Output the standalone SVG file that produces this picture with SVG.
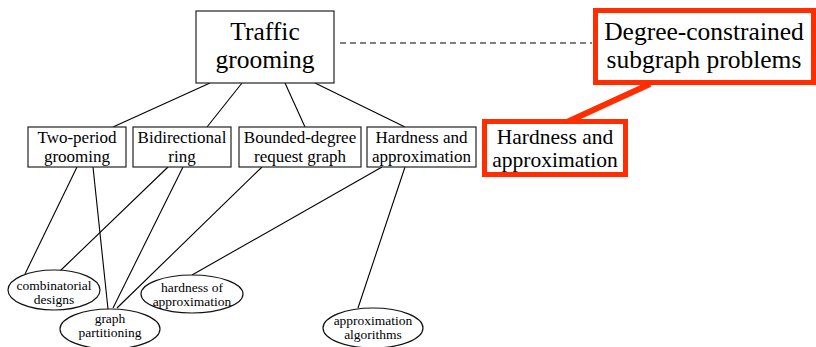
<svg xmlns="http://www.w3.org/2000/svg" width="816" height="347" viewBox="0 0 816 347" font-family="'Liberation Serif', serif">
  <style>
    text { fill: #000; text-anchor: middle; }
    .box { fill: #fff; stroke: #222; stroke-width: 1.2; }
    .oval { fill: #fff; stroke: #111; stroke-width: 1.2; }
    .hl { fill: #fff; stroke: #ff2d00; stroke-width: 5; }
    .edge { stroke: #000; stroke-width: 1.1; fill: none; }
    .dash { stroke: #000; stroke-width: 1.2; stroke-dasharray: 6 4; fill: none; }
    .hlink { stroke: #ff2d00; stroke-width: 6; fill: none; }
    .big { font-size: 25.5px; }
    .mid { font-size: 21.5px; }
    .small { font-size: 17px; }
    .tiny { font-size: 13.5px; }
  </style>

  <g id="connectors">
    <!-- root to topics -->
    <line class="edge" x1="210" y1="83" x2="113" y2="127"/>
    <line class="edge" x1="242" y1="83" x2="207" y2="127"/>
    <line class="edge" x1="285" y1="83" x2="305" y2="127"/>
    <line class="edge" x1="315" y1="83" x2="405" y2="127"/>
    <!-- topics to subjects -->
    <line class="edge" x1="77" y1="167" x2="25" y2="274"/>
    <line class="edge" x1="93" y1="167" x2="108" y2="309"/>
    <line class="edge" x1="168" y1="167" x2="60" y2="271"/>
    <line class="edge" x1="183" y1="167" x2="113" y2="308"/>
    <line class="edge" x1="262" y1="167" x2="117" y2="308"/>
    <line class="edge" x1="382" y1="167" x2="192" y2="275"/>
    <line class="edge" x1="405" y1="167" x2="358" y2="308"/>
    <!-- related area -->
    <line class="dash" x1="340" y1="43" x2="592" y2="43"/>
    <line class="hlink" x1="650" y1="84" x2="567" y2="122"/>
  </g>

  <g id="traffic-grooming">
    <rect class="box" x="196" y="11" width="138" height="72"/>
    <text class="big" x="265" y="40">Traffic</text>
    <text class="big" x="265" y="67.5">grooming</text>
  </g>

  <g id="degree-constrained">
    <rect class="hl" x="595.5" y="10.5" width="218" height="72"/>
    <text class="big" x="704" y="40">Degree-constrained</text>
    <text class="big" x="704" y="67.5">subgraph problems</text>
  </g>

  <g id="two-period">
    <rect class="box" x="28" y="127" width="98" height="40"/>
    <text class="small" x="77" y="143">Two-period</text>
    <text class="small" x="77" y="162">grooming</text>
  </g>

  <g id="bidirectional">
    <rect class="box" x="133" y="127" width="98" height="40"/>
    <text class="small" x="182" y="143">Bidirectional</text>
    <text class="small" x="182" y="162">ring</text>
  </g>

  <g id="bounded-degree">
    <rect class="box" x="239" y="127" width="122" height="40"/>
    <text class="small" x="300" y="143">Bounded-degree</text>
    <text class="small" x="300" y="162">request graph</text>
  </g>

  <g id="hardness-box">
    <rect class="box" x="367" y="127" width="109" height="40"/>
    <text class="small" x="421.5" y="143">Hardness and</text>
    <text class="small" x="421.5" y="162">approximation</text>
  </g>

  <g id="hardness-highlight">
    <rect class="hl" x="484.5" y="121.5" width="141" height="53"/>
    <text class="mid" x="555" y="143.5">Hardness and</text>
    <text class="mid" x="555" y="166.5">approximation</text>
  </g>

  <g id="combinatorial-designs">
    <ellipse class="oval" cx="54" cy="290" rx="46" ry="20"/>
    <text class="tiny" x="54" y="290">combinatorial</text>
    <text class="tiny" x="54" y="303.5">designs</text>
  </g>

  <g id="graph-partitioning">
    <ellipse class="oval" cx="110" cy="329" rx="50" ry="20"/>
    <text class="tiny" x="110" y="323">graph</text>
    <text class="tiny" x="110" y="337">partitioning</text>
  </g>

  <g id="hardness-of-approximation">
    <ellipse class="oval" cx="192" cy="294" rx="51" ry="19"/>
    <text class="tiny" x="192" y="292">hardness of</text>
    <text class="tiny" x="192" y="305.5">approximation</text>
  </g>

  <g id="approximation-algorithms">
    <ellipse class="oval" cx="373" cy="328" rx="50" ry="20"/>
    <text class="tiny" x="373" y="325">approximation</text>
    <text class="tiny" x="373" y="338.5">algorithms</text>
  </g>
</svg>
